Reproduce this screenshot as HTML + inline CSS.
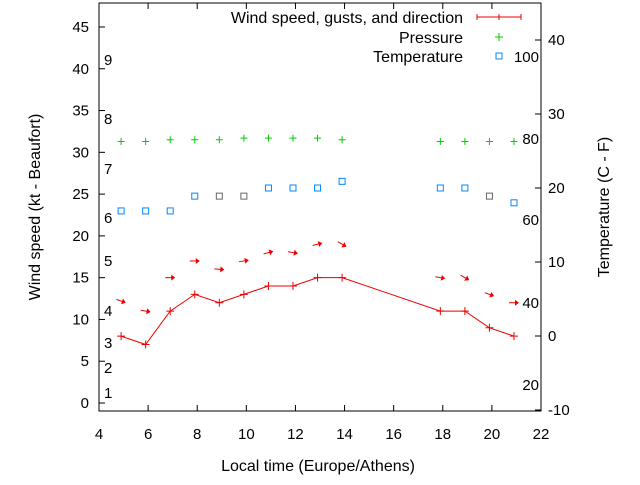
<!DOCTYPE html>
<html><head><meta charset="utf-8"><style>
body{margin:0;background:#fff}
svg text{font-family:"Liberation Sans",sans-serif;font-size:15px;fill:#000}
svg text.big{font-size:16px}
</style></head><body>
<svg id="chart" width="640" height="480" xmlns="http://www.w3.org/2000/svg"></svg>
<script>
const times=[4.9,5.9,6.9,7.9,8.9,9.9,10.9,11.9,12.9,13.9,17.9,18.9,19.9,20.9];
const windSpeed=[8,7,11,13,12,13,14,14,15,15,11,11,9,8];
const gustLevel=[12.2,11,15,17,16,17,18,18,19,19,15,15,13,12];
const windAngle=[20,10,0,0,5,-10,-15,10,-15,30,10,30,20,0];
const pressure=[31.3,31.3,31.5,31.5,31.5,31.7,31.7,31.7,31.7,31.5,31.3,31.3,31.3,31.3];
const temperature=[16.9,16.9,16.9,18.9,18.9,18.9,20,20,20,20.9,20,20,18.9,18];
const tempGray=[0,0,0,0,1,1,0,0,0,0,0,0,1,0];
const xTicks=[4,6,8,10,12,14,16,18,20,22];
const yTicks=[0,5,10,15,20,25,30,35,40,45];
const y2Ticks=[-10,0,10,20,30,40];
const beaufort=[[1,393],[2,368],[3,343],[4,311],[5,261],[6,218],[7,169],[8,119],[9,60]];
const fahr=[[20,385],[40,303],[60,220],[80,139],[100,57]];
const L=99,R=541,T=3,B=411;
const X=v=>L+(v-4)*(R-L)/18;
const Y=v=>403-v*8.356;
const Y2=v=>336-v*7.4;
const svg=document.getElementById('chart');
const NS='http://www.w3.org/2000/svg';
function el(t,a,txt){const e=document.createElementNS(NS,t);for(const k in a)e.setAttribute(k,a[k]);if(txt!==undefined)e.textContent=txt;svg.appendChild(e);return e;}
let e;
e=el('rect',{x:L,y:T,width:R-L,height:B-T,fill:'none',stroke:'#000'});


xTicks.forEach(v=>{
 el('line',{x1:X(v),x2:X(v),y1:B,y2:B-6,stroke:'#000'});
 el('line',{x1:X(v),x2:X(v),y1:T,y2:T+6,stroke:'#000'});
 e=el('text',{x:X(v),y:439,'text-anchor':'middle'},v);
 
 
});
yTicks.forEach(v=>{
 el('line',{x1:L,x2:L+6,y1:Y(v),y2:Y(v),stroke:'#000'});
 e=el('text',{x:89,y:Y(v)+5,'text-anchor':'end'},v);
 
 
});
y2Ticks.forEach(v=>{
 el('line',{x1:R,x2:R-6,y1:Y2(v),y2:Y2(v),stroke:'#000'});
 e=el('text',{x:548,y:Y2(v)+5},v);
 
 
});
beaufort.forEach(b=>{e=el('text',{x:104,y:b[1]+5},b[0]);
 
 });
fahr.forEach(b=>{e=el('text',{x:539,y:b[1]+5,'text-anchor':'end'},b[0]);
 
 });
e=el('text',{x:318,y:471,'text-anchor':'middle','class':'big'},'Local time (Europe/Athens)');


e=el('text',{x:40,y:207,'text-anchor':'middle','class':'big',transform:'rotate(-90 40 207)'},'Wind speed (kt - Beaufort)');


e=el('text',{x:609,y:207,'text-anchor':'middle','class':'big',transform:'rotate(-90 609 207)'},'Temperature (C - F)');


e=el('polyline',{points:times.map((t,i)=>X(t)+','+Y(windSpeed[i])).join(' '),fill:'none',stroke:'#e00',
'stroke-width':1});


times.forEach((t,i)=>{const x=X(t),y=Y(windSpeed[i]);
 e=el('path',{d:`M${x-4},${y}H${x+4}M${x},${y-4}V${y+4}`,stroke:'#e00'});
 
 
 const x0=X(t),y0=Y(gustLevel[i]);
 e=el('g',{transform:`translate(${x0},${y0}) rotate(${windAngle[i]})`});
 
 
 e.innerHTML='<line x1="-5" y1="0" x2="4" y2="0" stroke="#e00"/><path d="M1,-3 L5,0 L1,3Z" fill="#e00"/>';
});
times.forEach((t,i)=>{const x=X(t),y=Y(pressure[i]);
 e=el('path',{d:`M${x-3.5},${y}H${x+3.5}M${x},${y-3.5}V${y+3.5}`,stroke:'#0c0'});
 
 
 e=el('rect',{x:X(t)-3,y:Y2(temperature[i])-3,width:6,height:6,fill:'none',stroke:tempGray[i]?'#666':'#08f'});
 
 
});
[['Wind speed, gusts, and direction',17],['Pressure',37],['Temperature',56]].forEach((l,i)=>{
 e=el('text',{x:463,y:l[1]+6,'text-anchor':'end','class':'big'},l[0]);
 
 
});
el('path',{d:'M477,17H521M477,14V20M521,14V20M499,14V20',stroke:'#e00'});
el('path',{d:'M495,37H503M499,33V41',stroke:'#0c0'});
el('rect',{x:496,y:53,width:6,height:6,fill:'none',stroke:'#08f'});
</script>
</body></html>
